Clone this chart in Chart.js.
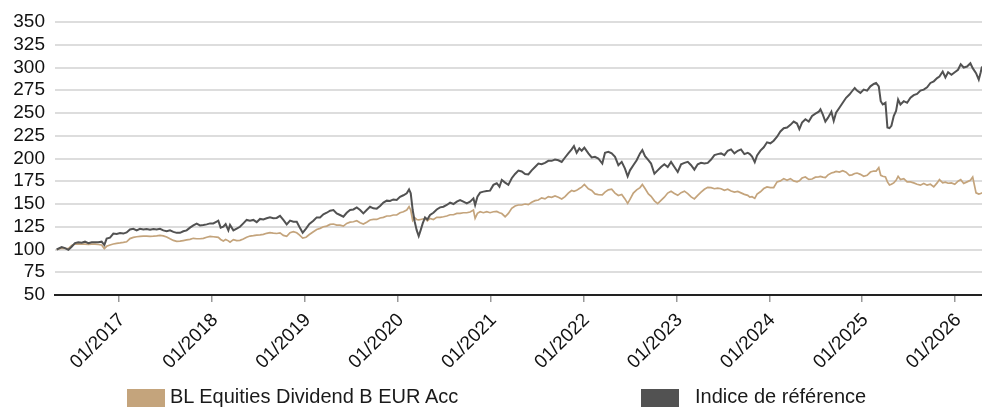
<!DOCTYPE html>
<html>
<head>
<meta charset="utf-8">
<script src="https://cdn.jsdelivr.net/npm/chart.js@4.4.1/dist/chart.umd.min.js"></script>
<style>
  html, body { margin: 0; padding: 0; background: #ffffff; }
  #wrap { position: relative; width: 982px; height: 407px; overflow: hidden; font-family: 'Liberation Sans', Arial, sans-serif; }
  #c { position: absolute; left: 0; top: 0; }
  .box { position: absolute; width: 38px; height: 20px; }
  .lbl { position: absolute; font-size: 20px; line-height: 20px; color: #1a1a1a; white-space: nowrap; }
</style>
</head>
<body>
<div id="wrap">
  <canvas id="c" width="982" height="407"></canvas>
  <div id="legend"></div>
</div>
<script>
// ---- Data (decimal years) ----
const years = [
  2016.329, 2016.383, 2016.419, 2016.455, 2016.490, 2016.526, 2016.562, 2016.598, 2016.634, 2016.670,
  2016.706, 2016.742, 2016.777, 2016.813, 2016.842, 2016.867, 2016.903, 2016.939, 2016.975, 2017.011,
  2017.047, 2017.082, 2017.118, 2017.154, 2017.190, 2017.226, 2017.262, 2017.298, 2017.334, 2017.370,
  2017.405, 2017.441, 2017.477, 2017.513, 2017.549, 2017.585, 2017.621, 2017.657, 2017.692, 2017.728,
  2017.764, 2017.800, 2017.836, 2017.872, 2017.908, 2017.944, 2017.980, 2018.015, 2018.051, 2018.069,
  2018.094, 2018.123, 2018.148, 2018.177, 2018.195, 2018.231, 2018.267, 2018.302, 2018.338, 2018.374,
  2018.410, 2018.446, 2018.482, 2018.518, 2018.554, 2018.589, 2018.625, 2018.661, 2018.697, 2018.733,
  2018.769, 2018.805, 2018.841,
  2018.877, 2018.913, 2018.941, 2018.977, 2019.013, 2019.049, 2019.092, 2019.128, 2019.164, 2019.200,
  2019.236, 2019.272, 2019.308, 2019.343, 2019.379, 2019.415, 2019.451, 2019.487, 2019.523, 2019.559,
  2019.595, 2019.630, 2019.666, 2019.702, 2019.738, 2019.774, 2019.810, 2019.846, 2019.882, 2019.917,
  2019.953, 2019.989, 2020.025, 2020.061, 2020.097, 2020.122, 2020.140, 2020.161, 2020.183, 2020.204,
  2020.226, 2020.247, 2020.269, 2020.294, 2020.319, 2020.348, 2020.384, 2020.420, 2020.456, 2020.492,
  2020.528, 2020.564, 2020.600, 2020.636, 2020.671, 2020.707, 2020.743, 2020.779, 2020.815, 2020.833,
  2020.858, 2020.887, 2020.922, 2020.958, 2020.994, 2021.030, 2021.066, 2021.095, 2021.120, 2021.156,
  2021.191, 2021.227, 2021.263, 2021.299, 2021.335, 2021.371,
  2021.406, 2021.442, 2021.478, 2021.514, 2021.549, 2021.585, 2021.621, 2021.657, 2021.693, 2021.729,
  2021.765, 2021.801, 2021.836, 2021.872, 2021.897, 2021.926, 2021.955, 2021.980, 2022.009, 2022.052,
  2022.088, 2022.123, 2022.159, 2022.202, 2022.231, 2022.267, 2022.303, 2022.339, 2022.375, 2022.411,
  2022.446, 2022.475, 2022.500, 2022.536, 2022.572, 2022.608, 2022.633, 2022.662, 2022.698, 2022.727,
  2022.763, 2022.798, 2022.834, 2022.870, 2022.906, 2022.942, 2022.978, 2023.014, 2023.050, 2023.086,
  2023.122, 2023.158, 2023.193, 2023.229, 2023.265, 2023.301, 2023.337, 2023.373, 2023.409, 2023.444,
  2023.480, 2023.516, 2023.552, 2023.588, 2023.624, 2023.660, 2023.695, 2023.731, 2023.767, 2023.790,
  2023.814, 2023.843, 2023.868, 2023.904, 2023.940, 2023.975, 2024.011, 2024.047, 2024.083, 2024.119,
  2024.155, 2024.191, 2024.227, 2024.262, 2024.298, 2024.323, 2024.352, 2024.388, 2024.424, 2024.460,
  2024.496, 2024.532, 2024.550, 2024.575, 2024.603, 2024.632, 2024.668, 2024.693, 2024.718, 2024.754,
  2024.790, 2024.826, 2024.862, 2024.890, 2024.919, 2024.944, 2024.980, 2025.016, 2025.052, 2025.088,
  2025.124, 2025.149, 2025.178, 2025.199, 2025.221, 2025.250, 2025.271, 2025.293, 2025.314, 2025.339,
  2025.364, 2025.386, 2025.411, 2025.447, 2025.483, 2025.519, 2025.554, 2025.590, 2025.626, 2025.662,
  2025.698, 2025.734, 2025.770, 2025.806, 2025.831, 2025.866, 2025.895, 2025.924, 2025.960, 2025.996,
  2026.031, 2026.060, 2026.092, 2026.128, 2026.164, 2026.189, 2026.225, 2026.254, 2026.275, 2026.289
];

const fundValues = [
  100, 101.5, 101.2, 101, 104.5, 106, 106.2, 106, 105.8, 105.6,
  105.9, 106, 105.5, 105, 101, 103.5, 105, 106, 106.8, 107.2,
  107.8, 108.5, 112, 113.3, 114, 114.4, 114.6, 114.6, 114.4, 114.6,
  115, 115.5, 115, 113.8, 111.8, 110, 109, 109.2, 109.8, 110.5,
  111.2, 112.3, 111.8, 111.8, 112.3, 113.5, 114.4, 114, 113.6, 113.4,
  111, 109.3, 111, 109.5, 108, 110.8, 109.8, 110, 111.6, 113.5,
  114.8, 115.2, 115.8, 116.1, 116.6, 117.8, 118.5, 118, 117.6, 118.3,
  115.5, 114.5, 118.5,
  119.5, 118.4, 116, 112.5, 113.5, 116.5, 119.5, 122, 123.2, 125,
  125.7, 127.6, 128, 126.8, 126.8, 125.7, 128.7, 130, 130.5, 131.6,
  129.4, 128, 130, 132.4, 133, 133, 134.6, 135.3, 136.8, 136.8,
  137.9, 137.9, 140.4, 141.5, 143.4, 147, 143.4, 132, 135, 133,
  132.5, 133, 133.5, 134, 131.6, 134.2, 133, 135.3, 135.3, 136,
  136.8, 138.2, 138.2, 139.7, 139.7, 140.4, 140.4, 141.2, 143.4, 134.2,
  139.7, 141.5, 140.4, 141.5, 140.4, 141.5, 141.9, 140.4, 139.5, 136,
  139.7, 145.2, 147.8, 148.9, 148.9, 150,
  149.3, 151.9, 153.7, 154.4, 156.7, 155.6, 158.1, 157.4, 158.9, 157.4,
  155.6, 158.1, 161.9, 164.8, 164, 165, 167, 168.5, 171.5, 166.7,
  164.8, 161.1, 160.4, 160, 163, 165.5, 166.2, 162, 159.3, 160.4,
  155.6, 150.7, 155, 162, 165.5, 168, 171.5, 167, 161.1, 158.5,
  153.5, 150.5, 154, 157.5, 162, 164, 161.5, 159.5, 162.5, 164.1,
  161.5, 157.8, 155.6, 159.5, 163, 166.2, 168.3, 168, 166.8, 167.5,
  166.8, 165, 166.3, 164.3, 163, 163.8, 162.2, 160.6, 159.5, 157.5,
  158, 156.2, 160.9, 163.4, 167, 168.8, 168.1, 168.1, 174.3, 175.4,
  177.9, 176.1, 177.9, 175.4, 174.3, 175.5, 178.5, 179.7, 177, 177.5,
  179.5, 179.8, 180.4, 179.5, 179, 182, 184.1, 184.8, 185.8, 185,
  186.5, 185, 181.5, 182, 183.5, 184, 182.6, 180.4, 181.5, 185.1,
  186.2, 186.2, 189.9, 181.5, 180.5, 179.7, 174.3, 171, 171.7, 173.2,
  176, 180.4, 176.8, 177.9, 174.3, 174.3, 173.2, 171.7, 170.7, 172.5,
  170.7, 171.7, 168.8, 173.2, 176.8, 173.2, 174, 172.8, 173.2, 171.7,
  175, 176.8, 172.5, 174.3, 176.1, 179.7, 162.3, 160.9, 161.5, 162.3
];

const indexValues = [
  100, 102.6, 101.5, 99.6, 103, 107, 108, 107.5, 108.6, 107,
  108, 108, 108, 108.6, 105, 112, 113, 117.5, 117, 118,
  117.5, 118.7, 122, 122.8, 121, 122.8, 122, 122.4, 121.6, 122.4,
  122, 122.8, 121, 120, 121, 119.4, 118.3, 118.3, 120, 121,
  124, 126.5, 128.4, 126.5, 127, 127.6, 128.7, 128.7, 130.6, 131.7,
  124, 125, 128, 121, 127, 121, 123, 125, 128.7, 132.5,
  131.7, 132.5, 130, 133.6, 133, 134.3, 135.4, 134.3, 134.7, 137,
  132.5, 127.6, 131.7,
  130.5, 130.5, 125, 118.4, 123, 128, 131.6, 135.3, 135.3, 138.6,
  140.4, 142.6, 143.4, 139.7, 137.9, 136, 140.4, 143.4, 144, 146.3,
  143.4, 139.7, 143.4, 147, 145.2, 144.9, 147.8, 151.5, 153.7, 153.3,
  155, 154.4, 158, 159.6, 161.8, 166, 161.8, 143.4, 130.5, 121.3,
  114.7, 121.3, 128.7, 135.3, 133, 137.9, 140.4, 144, 146.3, 147,
  148.9, 151.5, 150, 152.6, 154.4, 152.6, 150.7, 152.6, 156.2, 148.9,
  158, 162.5, 163.6, 164.3, 164.7, 171, 172.8, 169, 176.5, 173.5,
  171, 178.3, 183, 186.8, 185.7, 183,
  182.6, 187, 190.7, 194.4, 193.7, 195.2, 197.4, 197.4, 198.9, 198.1,
  196.3, 201.1, 205.6, 210, 213.7, 206.3, 211.1, 208.5, 212, 205.6,
  201.1, 201.9, 200, 194.4, 206.3, 207.4, 205.6, 201.9, 192.6, 196.3,
  188.9, 180.4, 187, 192.6, 198.1, 205.6, 209.3, 202.6, 198.1, 194.4,
  183.3, 187, 190.7, 193.7, 190.7, 196.3, 190.7, 185.2, 193.7, 195.2,
  196.3, 192.6, 187.8, 193.7, 195.2, 194.4, 195.2, 198.9, 203.7, 204.8,
  205.6, 203.7, 208.5, 210, 205.6, 208.5, 210, 204.8, 206.3, 204.8,
  202.2, 196, 203.3, 208.7, 212.3, 217.8, 216.7, 219.6, 223.9, 229.7,
  233.3, 234.1, 237, 240.6, 238.4, 232.2, 239.5, 243.1, 240.6, 246.7,
  249.3, 251.4, 254, 248.5, 240.6, 244.9, 251.4, 241.3, 250.4, 255.8,
  261.2, 266.7, 270.3, 273.9, 277.5, 274.6, 272.1, 275.7, 274.6, 279.3,
  281.9, 283, 279.3, 263, 259.4, 261.2, 234.1, 233.3, 235.9, 246.7,
  252.2, 264.8, 259.4, 263, 261.2, 266.7, 269.6, 271, 274.6, 275.7,
  278.3, 283, 284.8, 288.4, 290, 295.6, 289.1, 294.8, 292, 294.8,
  297.5, 303.6, 300, 301.1, 304.7, 299.3, 293.8, 286.6, 294.9, 301.1
];

const seriesNames = ['BL Equities Dividend B EUR Acc', 'Indice de référence'];
const seriesColors = ['#c4a47c', '#525252'];
const tickYears = [2017, 2018, 2019, 2020, 2021, 2022, 2023, 2024, 2025, 2026];
const tickLabels = ['01/2017', '01/2018', '01/2019', '01/2020', '01/2021', '01/2022', '01/2023', '01/2024', '01/2025', '01/2026'];
const yTicks = [50, 75, 100, 125, 150, 175, 200, 225, 250, 275, 300, 325, 350];
const xRange = [2016.311, 2026.289];

// ---- Chart ----
const FONT = "'Liberation Sans', Arial, sans-serif";
const toPoints = vals => years.map((x, i) => ({ x: x, y: vals[i] }));

new Chart(document.getElementById('c').getContext('2d'), {
  type: 'line',
  data: {
    datasets: [
      { label: seriesNames[0], data: toPoints(fundValues), borderColor: seriesColors[0], backgroundColor: seriesColors[0],
        borderWidth: 1.7, pointRadius: 0, tension: 0, fill: false, order: 2 },
      { label: seriesNames[1], data: toPoints(indexValues), borderColor: seriesColors[1], backgroundColor: seriesColors[1],
        borderWidth: 2, pointRadius: 0, tension: 0, fill: false, order: 1 }
    ]
  },
  options: {
    responsive: false,
    animation: false,
    layout: { padding: { top: 22, left: 0, right: 0, bottom: 0 } },
    plugins: { legend: { display: false }, tooltip: { enabled: false } },
    scales: {
      x: {
        type: 'linear',
        min: xRange[0],
        max: xRange[1],
        afterBuildTicks: s => { s.ticks = tickYears.map(v => ({ value: v })); },
        afterFit: s => { s.height = 112; },
        grid: { drawOnChartArea: false, drawTicks: true, tickLength: 7, color: '#999999', lineWidth: 1.5 },
        border: { display: true, color: '#222222', width: 2 },
        ticks: {
          autoSkip: false, minRotation: 45, maxRotation: 45, padding: 7, labelOffset: 3, color: '#111111',
          font: { family: FONT, size: 19 },
          callback: (v, i) => tickLabels[i]
        }
      },
      y: {
        min: yTicks[0],
        max: yTicks[yTicks.length - 1],
        afterBuildTicks: s => { s.ticks = yTicks.map(v => ({ value: v })); },
        afterFit: s => { s.width = 55; },
        grid: { color: '#dddddd', lineWidth: 2, drawTicks: false },
        border: { display: false },
        ticks: { autoSkip: false, padding: 10, color: '#111111', font: { family: FONT, size: 19 } }
      }
    }
  }
});

// ---- Legend (HTML, built from the series arrays) ----
const legendPos = [{ box: 127, text: 170 }, { box: 641, text: 695 }];
const legend = document.getElementById('legend');
seriesNames.forEach((name, i) => {
  const b = document.createElement('div');
  b.className = 'box';
  b.style.left = legendPos[i].box + 'px';
  b.style.top = '389px';
  b.style.background = seriesColors[i];
  legend.appendChild(b);
  const t = document.createElement('div');
  t.className = 'lbl';
  t.style.left = legendPos[i].text + 'px';
  t.style.top = '386px';
  t.textContent = name;
  legend.appendChild(t);
});
</script>
</body>
</html>
